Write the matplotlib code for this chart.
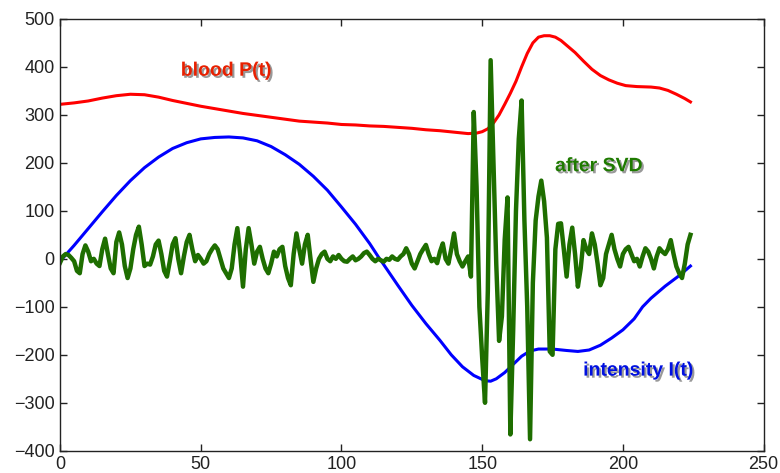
import matplotlib

matplotlib.use("Agg")
import matplotlib.pyplot as plt
import matplotlib.patheffects as pe

# blood pressure P(t)
blood_t = [0, 5, 10, 15, 20, 25, 30, 35, 40, 45, 50, 55, 60, 65, 70, 75, 80,
           85, 90, 95, 100, 105, 110, 115, 120, 125, 130, 135, 140, 145, 148,
           150, 152, 154, 156, 158, 160, 162, 164, 166, 168, 170, 172, 174,
           176, 178, 180, 183, 186, 189, 192, 195, 198, 201, 205, 210, 213,
           216, 219, 222, 224]
blood_p = [322, 325, 329, 335, 340, 343, 342, 337, 330, 324, 318, 313, 308,
           303, 299, 295, 291, 287, 285, 283, 280, 279, 277, 276, 274, 272,
           269, 267, 264, 261, 262, 265, 271, 283, 300, 322, 345, 370, 400,
           428, 450, 462, 465, 465, 462, 455, 445, 430, 412, 395, 382, 373,
           366, 361, 359, 358, 356, 351, 343, 334, 327]

# intensity I(t)
inten_t = [0, 5, 10, 15, 20, 25, 30, 35, 40, 45, 50, 55, 60, 65, 70, 75, 80,
           85, 90, 95, 100, 105, 110, 113, 115, 120, 125, 130, 135, 139, 143,
           147, 151, 153, 155, 158, 161, 164, 167, 170, 175, 180, 184, 188,
           192, 196, 200, 204, 207, 210, 215, 220, 224]
inten_i = [-5, 28, 63, 98, 132, 163, 190, 212, 230, 242, 250, 253, 254, 252,
           246, 234, 217, 197, 172, 143, 108, 72, 32, 5, -12, -55, -97, -135,
           -170, -200, -225, -243, -254, -255, -250, -237, -220, -203, -192,
           -188, -188, -191, -193, -190, -180, -165, -148, -125, -100, -82,
           -57, -35, -15]

# signal after SVD, one sample per time step 0..224
svd_y = [-8, 5, 10, 8, 2, -5, -25, -30, 10, 28, 15, -5, 0, -10, -15, 20,
         42, 10, -20, -30, 35, 55, 30, -15, -40, -20, 20, 50, 67, 30, -15,
         -10, -12, 5, 30, 38, 10, -25, -37, -5, 30, 43, 0, -30, 5, 35, 50,
         20, -5, 8, 0, -10, -5, 10, 20, 28, 20, 0, -20, -30, -40, -20, 30,
         64, 10, -58, 20, 64, 30, -10, 15, 25, 0, -20, -30, -10, 15, 5, 20,
         25, -15, -40, -55, 10, 53, 20, -10, 30, 50, 0, -48, -20, 0, 10, 15,
         0, -5, 5, 0, 8, 0, -5, -6, 0, 5, -3, 0, 5, 12, 15, 8, 0, -5, 0, -3,
         -6, 0, -2, 5, 0, -2, 5, 10, 22, 10, -10, -20, -5, 10, 20, 29, 10,
         -5, 0, -9, 15, 32, 0, -10, 20, 53, 10, -5, -16, -5, 5, -37, 306,
         150, -100, -207, -300, -67, 414, 198, -11, -171, -120, 40, 128,
         -366, -150, 100, 250, 330, 80, -100, -376, -50, 80, 130, 163, 120,
         44, -193, -200, 20, 73, 74, 20, -37, 30, 65, 10, -58, -20, 39, 20,
         10, 53, 30, -10, -55, -40, 10, 30, 50, 20, 0, -16, 10, 20, 25, 10,
         -5, 0, -16, 5, 22, 15, 0, -20, 5, 22, 15, 10, 20, 39, 10, -16, -30,
         -40, -10, 30, 50]
svd_t = list(range(len(svd_y)))

labels = ["blood P(t)", "after SVD", "intensity I(t)"]
x_ticks = [0, 50, 100, 150, 200, 250]
y_ticks = [-400, -300, -200, -100, 0, 100, 200, 300, 400, 500]

plt.rcParams["font.family"] = ["Liberation Sans", "DejaVu Sans"]

fig = plt.figure(figsize=(7.8, 4.73), dpi=100)
ax = fig.add_axes([0.077, 0.047, 0.902, 0.913])

ax.plot(blood_t, blood_p, color="#ff0000", linewidth=2.2)
ax.plot(inten_t, inten_i, color="#0000ff", linewidth=2.2)
ax.plot(svd_t, svd_y, color="#1e6e00", linewidth=3.2)

# soft drop shadow under the curve labels
shadow = [pe.withSimplePatchShadow(offset=(1.5, -1.5), shadow_rgbFace="black",
                                   alpha=0.4)]
ax.text(59, 391, labels[0], color="#e82000", fontsize=14, fontweight="bold",
        ha="center", va="center", path_effects=shadow)
ax.text(191.5, 192, labels[1], color="#1e7a00", fontsize=14,
        fontweight="bold", ha="center", va="center", path_effects=shadow)
ax.text(205.5, -234, labels[2], color="#0010e0", fontsize=14,
        fontweight="bold", ha="center", va="center", path_effects=shadow)

ax.set_xlim(0, 250)
ax.set_ylim(-400, 500)
ax.set_xticks(x_ticks)
ax.set_yticks(y_ticks)
ax.tick_params(direction="in", length=5, width=1, top=True, right=True,
               labelsize=13, colors="#222222", pad=4)
for spine in ax.spines.values():
    spine.set_color("#222222")
    spine.set_linewidth(1)

fig.savefig("out.png", dpi=100)
